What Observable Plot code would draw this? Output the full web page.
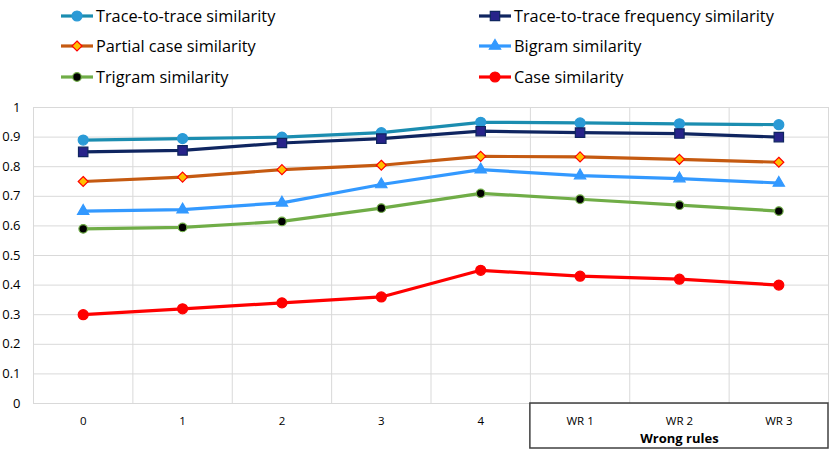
<!DOCTYPE html>
<html><head><meta charset="utf-8">
<script src="https://cdn.jsdelivr.net/npm/d3@7"></script>
<script src="https://cdn.jsdelivr.net/npm/@observablehq/plot@0.6"></script>
<style>
body{margin:0;background:#fff;font-family:"Open Sans",sans-serif;}
#wrap{position:relative;width:831px;height:451px;}
#legend{position:absolute;left:0;top:0;width:831px;height:95px;}
.item{position:absolute;display:flex;align-items:center;font-size:16.3px;color:#000;white-space:nowrap;}
.item svg{margin-right:2px;}
#chart{position:absolute;left:0;top:95px;}
</style></head>
<body><div id="wrap"><div id="legend"></div><div id="chart"></div></div>
<script>
const categories = ["0","1","2","3","4","WR 1","WR 2","WR 3"];
const traceToTrace = [0.89,0.895,0.90,0.915,0.95,0.948,0.945,0.942];
const traceFreq    = [0.85,0.855,0.88,0.895,0.92,0.915,0.912,0.90];
const partialCase  = [0.75,0.765,0.79,0.805,0.835,0.833,0.825,0.815];
const bigram       = [0.65,0.655,0.678,0.74,0.79,0.77,0.76,0.745];
const trigram      = [0.59,0.595,0.615,0.66,0.71,0.69,0.67,0.65];
const caseSim      = [0.30,0.32,0.34,0.36,0.45,0.43,0.42,0.40];
const yTicks = [0,0.1,0.2,0.3,0.4,0.5,0.6,0.7,0.8,0.9,1];
const groupLabel = "Wrong rules";
const groupMembers = ["WR 1","WR 2","WR 3"];

const series = [
  {name:"Trace-to-trace similarity", values:traceToTrace, line:"#1b8db0", symbol:"circle", fill:"#2a9ad6", stroke:"#2a9ad6", r:5, col:0, row:0},
  {name:"Trace-to-trace frequency similarity", values:traceFreq, line:"#0f2560", symbol:"square", fill:"#27238a", stroke:"#0f2560", r:5.3, col:1, row:0},
  {name:"Partial case similarity", values:partialCase, line:"#c55a11", symbol:"diamond2", fill:"#ffc000", stroke:"#ff0000", r:4.5, col:0, row:1},
  {name:"Bigram similarity", values:bigram, line:"#3399ff", symbol:"triangle", fill:"#3399ff", stroke:"#3399ff", r:4.2, col:1, row:1},
  {name:"Trigram similarity", values:trigram, line:"#70ad47", symbol:"circle", fill:"#000000", stroke:"#70ad47", r:4.3, col:0, row:2},
  {name:"Case similarity", values:caseSim, line:"#ff0000", symbol:"circle", fill:"#ff0000", stroke:"#ff0000", r:5, col:1, row:2}
];

const rows = series.flatMap(s => s.values.map((v,i) => ({series:s.name, i, v})));
const bounds = d3.range(categories.length + 1).map(k => k - 0.5);
const gIdx = groupMembers.map(m => categories.indexOf(m));
const groups = [{label:groupLabel, x1:d3.min(gIdx)-0.5, x2:d3.max(gIdx)+0.5, xm:d3.mean(gIdx), y:0}];

const marks = [
  Plot.ruleY(yTicks, {stroke:"#d9d9d9", strokeWidth:1}),
  Plot.ruleX(bounds, {stroke:"#d9d9d9", strokeWidth:1}),
  Plot.axisY({ticks:yTicks, tickSize:0, tickPadding:13, fontSize:13, tickFormat:d=>String(d)}),
  Plot.axisX({ticks:d3.range(categories.length), tickSize:0, tickPadding:13, fontSize:11.5, tickFormat:i=>categories[i]}),
];
for (const s of series) {
  const d = rows.filter(r => r.series === s.name);
  marks.push(Plot.line(d, {x:"i", y:"v", stroke:s.line, strokeWidth:3.2}));
}
for (const s of series) {
  const d = rows.filter(r => r.series === s.name);
  marks.push(Plot.dot(d, {x:"i", y:"v", symbol:()=>s.symbol, fill:s.fill, stroke:s.stroke, strokeWidth:1.2, r:s.r}));
}
marks.push(Plot.rect(groups, {x1:"x1", x2:"x2", y1:"y", y2:"y", insetBottom:-45, fill:"none", stroke:"#404040", strokeWidth:1.5}));
marks.push(Plot.text(groups, {x:"xm", y:"y", text:"label", dy:35, fontSize:13, fontWeight:"bold", fill:"#000"}));

const plot = Plot.plot({
  width:831, height:356,
  marginTop:12, marginBottom:48, marginLeft:33, marginRight:3,
  x:{type:"linear", domain:[-0.5, categories.length-0.5], axis:null},
  y:{domain:[0,1], axis:null},
  symbol:{type:"identity"},
  style:{fontFamily:"'Open Sans', sans-serif", color:"#000", background:"transparent", overflow:"visible"},
  marks
});
document.getElementById("chart").appendChild(plot);

// legend
const legend = d3.select("#legend");
const colX = [60, 478], rowY = [16, 46, 77];
const symMap = {circle:d3.symbolCircle, square:d3.symbolSquare, diamond2:d3.symbolDiamond2, triangle:d3.symbolTriangle};
for (const s of series) {
  const it = legend.append("div").attr("class","item")
    .style("left", colX[s.col]+"px").style("top", (rowY[s.row]-12)+"px").style("height","24px");
  const sv = it.append("svg").attr("width",34).attr("height",24);
  sv.append("line").attr("x1",1).attr("x2",33).attr("y1",12).attr("y2",12).attr("stroke",s.line).attr("stroke-width",3.2);
  const size = s.r*s.r*Math.PI;
  sv.append("path").attr("transform","translate(17,12)").attr("d", d3.symbol(symMap[s.symbol], size)())
    .attr("fill", s.fill).attr("stroke", s.stroke).attr("stroke-width",1.2);
  it.append("span").text(s.name);
}
</script></body></html>
